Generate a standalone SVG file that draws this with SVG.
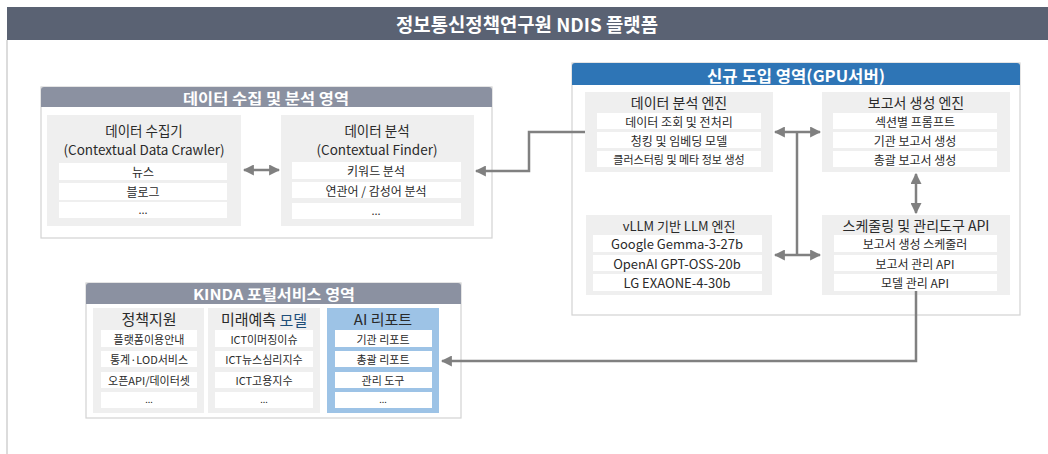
<svg xmlns="http://www.w3.org/2000/svg" width="1048" height="454" viewBox="0 0 1048 454">
<defs>
<style>
text{font-family:"Noto Sans CJK KR","Noto Sans",sans-serif;fill:#2a2a2a;text-anchor:middle;dominant-baseline:central}
.hd{fill:#fff;font-weight:bold}
.region{fill:#fff;stroke:#d3d3d3;stroke-width:1.2}
.box{fill:#efefef}
.row{fill:#fff}
.bt{font-size:14px}
.bt2{font-size:13.5px}
.rt{font-size:12px}
.ct{font-size:11px}
.conn{fill:none;stroke:#808080;stroke-width:2.5}
</style>
<marker id="ah" viewBox="0 0 10 10" refX="9" refY="5" markerWidth="11" markerHeight="11" markerUnits="userSpaceOnUse" orient="auto-start-reverse">
<path d="M0,0 L10,5 L0,10 Z" fill="#808080"/>
</marker>
</defs>

<rect x="0" y="0" width="1048" height="454" fill="#fff"/>
<line x1="7" y1="40" x2="7" y2="454" stroke="#dcdcdc" stroke-width="2"/>

<g id="title">
<rect x="7" y="7" width="1041" height="33" fill="#5a6273"/>
<text x="527" y="23.5" class="hd" font-size="19" textLength="262" lengthAdjust="spacingAndGlyphs">정보통신정책연구원 NDIS 플랫폼</text>
</g>

<g id="data-region">
<rect class="region" x="41" y="87" width="451" height="151"/>
<path d="M41,107 V90 Q41,87 44,87 H489 Q492,87 492,90 V107 Z" fill="#8b91a1"/>
<text x="266" y="97.5" class="hd" font-size="15" textLength="166" lengthAdjust="spacingAndGlyphs">데이터 수집 및 분석 영역</text>
</g>

<g id="data-collector">
<rect class="box" x="47" y="115" width="194" height="111"/>
<text x="144" y="129.5" class="bt2">데이터 수집기</text>
<text x="144" y="148.5" class="bt2">(Contextual Data Crawler)</text>
<rect class="row" x="59" y="163" width="168" height="17"/>
<text x="143" y="171.5" class="rt">뉴스</text>
<rect class="row" x="59" y="183" width="168" height="17"/>
<text x="143" y="191.5" class="rt">블로그</text>
<rect class="row" x="59" y="202" width="168" height="16"/>
<text x="143" y="209" class="ct">...</text>
</g>

<g id="data-analysis">
<rect class="box" x="281" y="115" width="193" height="111"/>
<text x="377" y="129.5" class="bt2">데이터 분석</text>
<text x="377" y="148.5" class="bt2">(Contextual Finder)</text>
<rect class="row" x="292" y="162" width="169" height="17"/>
<text x="376" y="170.5" class="rt">키워드 분석</text>
<rect class="row" x="292" y="182" width="169" height="16"/>
<text x="376" y="190" class="rt">연관어 / 감성어 분석</text>
<rect class="row" x="292" y="203" width="169" height="16"/>
<text x="376" y="210" class="ct">...</text>
</g>

<g id="gpu-region">
<rect class="region" x="572" y="63" width="448" height="252"/>
<path d="M572,85 V66 Q572,63 575,63 H1017 Q1020,63 1020,66 V85 Z" fill="#2e75b6"/>
<text x="796" y="74.5" class="hd" font-size="16" textLength="178" lengthAdjust="spacingAndGlyphs">신규 도입 영역(GPU서버)</text>
</g>

<g id="analysis-engine">
<rect class="box" x="585" y="92" width="188" height="80"/>
<text x="679" y="102" class="bt">데이터 분석 엔진</text>
<rect class="row" x="597" y="113" width="164" height="16"/>
<text x="679" y="121" class="rt">데이터 조회 및 전처리</text>
<rect class="row" x="597" y="132" width="164" height="16"/>
<text x="679" y="140" class="rt">청킹 및 임베딩 모델</text>
<rect class="row" x="597" y="151" width="164" height="16"/>
<text x="679" y="159" class="ct">클러스터링 및 메타 정보 생성</text>
</g>

<g id="report-engine">
<rect class="box" x="822" y="92" width="188" height="80"/>
<text x="916" y="102" class="bt">보고서 생성 엔진</text>
<rect class="row" x="833" y="113" width="164" height="16"/>
<text x="915" y="121" class="rt">섹션별 프롬프트</text>
<rect class="row" x="833" y="132" width="164" height="16"/>
<text x="915" y="140" class="rt">기관 보고서 생성</text>
<rect class="row" x="833" y="151" width="164" height="16"/>
<text x="915" y="159" class="rt">총괄 보고서 생성</text>
</g>

<g id="llm-engine">
<rect class="box" x="586" y="215" width="186" height="80"/>
<text x="679" y="225" font-size="13">vLLM 기반 LLM 엔진</text>
<rect class="row" x="593" y="235" width="169" height="17"/>
<text x="677" y="243.5" font-size="13">Google Gemma-3-27b</text>
<rect class="row" x="593" y="255" width="169" height="16"/>
<text x="677" y="263" font-size="13">OpenAI GPT-OSS-20b</text>
<rect class="row" x="593" y="274" width="169" height="17"/>
<text x="677" y="282.5" font-size="13">LG EXAONE-4-30b</text>
</g>

<g id="scheduler-api">
<rect class="box" x="822" y="215" width="188" height="80"/>
<text x="916" y="225" class="bt">스케줄링 및 관리도구 API</text>
<rect class="row" x="834" y="235" width="163" height="17"/>
<text x="915" y="243.5" class="rt">보고서 생성 스케줄러</text>
<rect class="row" x="834" y="255" width="163" height="16"/>
<text x="915" y="263" class="rt">보고서 관리 API</text>
<rect class="row" x="834" y="274" width="163" height="17"/>
<text x="915" y="282.5" class="rt">모델 관리 API</text>
</g>

<g id="kinda-region">
<rect class="region" x="86" y="283" width="375" height="135"/>
<path d="M86,304 V286 Q86,283 89,283 H458 Q461,283 461,286 V304 Z" fill="#8b91a1"/>
<text x="274" y="293.5" class="hd" font-size="15" textLength="162" lengthAdjust="spacingAndGlyphs">KINDA 포털서비스 영역</text>
</g>

<g id="policy-support">
<rect class="box" x="93" y="308" width="111" height="105"/>
<text x="149" y="318.5" font-size="15">정책지원</text>
<rect class="row" x="101" y="330" width="96" height="17"/>
<text x="149" y="338.5" class="ct">플랫폼이용안내</text>
<rect class="row" x="101" y="351" width="96" height="16"/>
<text x="149" y="359" class="ct">통계·LOD서비스</text>
<rect class="row" x="101" y="372" width="96" height="16"/>
<text x="149" y="380" class="ct">오픈API/데이터셋</text>
<rect class="row" x="101" y="392" width="96" height="16"/>
<text x="149" y="399" font-size="9">...</text>
</g>

<g id="forecast-model">
<rect class="box" x="208" y="308" width="112" height="105"/>
<text x="264" y="318.5" font-size="15">미래예측 <tspan fill="#1f4e79">모델</tspan></text>
<rect class="row" x="215" y="330" width="98" height="17"/>
<text x="264" y="338.5" class="ct">ICT이머징이슈</text>
<rect class="row" x="215" y="351" width="98" height="16"/>
<text x="264" y="359" class="ct">ICT뉴스심리지수</text>
<rect class="row" x="215" y="372" width="98" height="16"/>
<text x="264" y="380" class="ct">ICT고용지수</text>
<rect class="row" x="215" y="392" width="98" height="16"/>
<text x="264" y="399" font-size="9">...</text>
</g>

<g id="ai-report">
<rect x="327" y="308" width="112" height="105" fill="#9dc3e6"/>
<text x="383" y="318.5" font-size="15" fill="#2b3447">AI 리포트</text>
<rect class="row" x="335" y="330" width="97" height="17"/>
<text x="383" y="338.5" class="ct">기관 리포트</text>
<rect class="row" x="335" y="351" width="97" height="16"/>
<text x="383" y="359" class="ct">총괄 리포트</text>
<rect class="row" x="335" y="372" width="97" height="16"/>
<text x="383" y="380" class="ct">관리 도구</text>
<rect class="row" x="335" y="392" width="97" height="16"/>
<text x="383" y="399" font-size="9">...</text>
</g>

<g id="connectors">
<line class="conn" x1="244" y1="170" x2="279" y2="170" marker-start="url(#ah)" marker-end="url(#ah)"/>
<polyline class="conn" points="585,132 529,132 529,171 476,171" marker-end="url(#ah)"/>
<line class="conn" x1="797" y1="132" x2="797" y2="255"/>
<line class="conn" x1="775" y1="132" x2="820" y2="132" marker-start="url(#ah)" marker-end="url(#ah)"/>
<line class="conn" x1="775" y1="255" x2="820" y2="255" marker-start="url(#ah)" marker-end="url(#ah)"/>
<line class="conn" x1="916" y1="174" x2="916" y2="213" marker-start="url(#ah)" marker-end="url(#ah)"/>
<polyline class="conn" points="916,291 916,361 442,361" marker-end="url(#ah)"/>
</g>
</svg>
